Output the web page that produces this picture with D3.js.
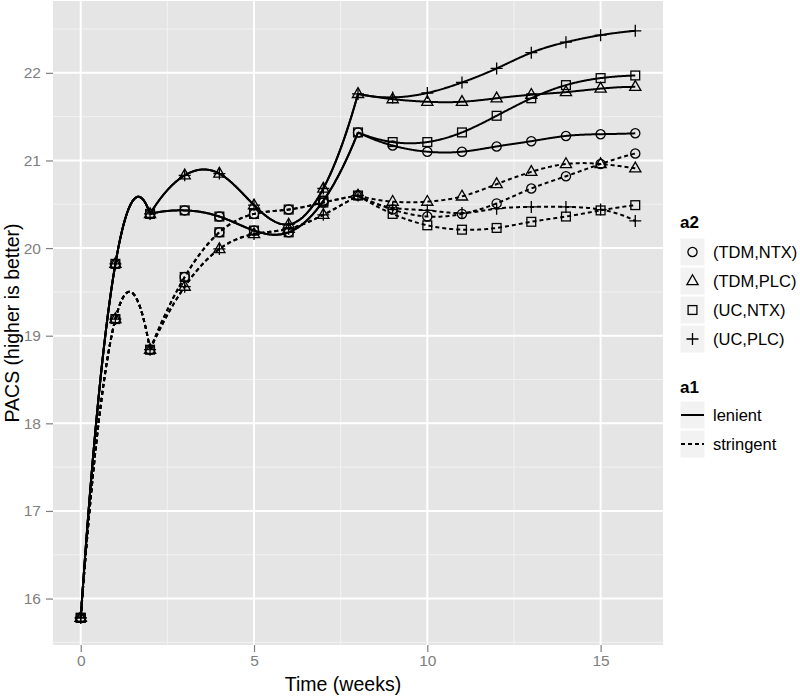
<!DOCTYPE html>
<html><head><meta charset="utf-8">
<script src="https://cdn.jsdelivr.net/npm/d3@7"></script>
<style>body{margin:0;background:#fff;} svg{display:block;font-family:"Liberation Sans",Arial,sans-serif;}</style>
</head><body>
<svg id="c" width="800" height="696"></svg>
<script>
const weeks = [0,1,2,3,4,5,6,7,8,9,10,11,12,13,14,15,16];
const phaseBreaks = [0,2,8,16];   // spline pieces: weeks 0-2, 2-8, 8-16
const groups = ["(TDM,NTX)","(TDM,PLC)","(UC,NTX)","(UC,PLC)"];
const shapes = ["circle","triangle","square","plus"];
const regimes = ["lenient","stringent"];
const yTicks = [16,17,18,19,20,21,22];
const xTicks = [0,5,10,15];

// lenient
const lenTDM_NTX = [15.78,19.82,20.39,20.43,20.36,20.20,20.18,20.54,21.32,21.17,21.10,21.10,21.16,21.22,21.28,21.30,21.31];
const lenTDM_PLC = [15.78,19.82,20.39,20.83,20.85,20.49,20.27,20.68,21.76,21.70,21.67,21.67,21.71,21.75,21.78,21.82,21.84];
const lenUC_NTX  = [15.78,19.82,20.39,20.43,20.36,20.20,20.18,20.54,21.32,21.21,21.21,21.32,21.51,21.71,21.86,21.94,21.97];
const lenUC_PLC  = [15.78,19.82,20.39,20.83,20.85,20.49,20.27,20.68,21.76,21.72,21.77,21.89,22.05,22.23,22.35,22.43,22.48];
// stringent
const strTDM_NTX = [15.78,19.19,18.84,19.67,20.18,20.39,20.44,20.52,20.60,20.44,20.36,20.39,20.51,20.68,20.82,20.96,21.08];
const strTDM_PLC = [15.78,19.19,18.84,19.56,19.99,20.16,20.22,20.38,20.60,20.53,20.53,20.59,20.73,20.87,20.96,20.96,20.91];
const strUC_NTX  = [15.78,19.19,18.84,19.67,20.18,20.39,20.44,20.52,20.60,20.39,20.26,20.21,20.23,20.30,20.36,20.43,20.49];
const strUC_PLC  = [15.78,19.19,18.84,19.56,19.99,20.16,20.22,20.38,20.60,20.46,20.43,20.40,20.45,20.47,20.47,20.44,20.31];

const series = [
  {a1:"lenient", a2:0, v:lenTDM_NTX},{a1:"lenient", a2:1, v:lenTDM_PLC},
  {a1:"lenient", a2:2, v:lenUC_NTX},{a1:"lenient", a2:3, v:lenUC_PLC},
  {a1:"stringent", a2:0, v:strTDM_NTX},{a1:"stringent", a2:1, v:strTDM_PLC},
  {a1:"stringent", a2:2, v:strUC_NTX},{a1:"stringent", a2:3, v:strUC_PLC}
];

const svg = d3.select("#c");
const P = {l:53, r:663, t:1, b:645};
const x = d3.scaleLinear().domain([-0.8,16.8]).range([P.l,P.r]);
const y = d3.scaleLinear().domain([15.47,22.82]).range([P.b,P.t]);

svg.append("rect").attr("x",P.l).attr("y",P.t).attr("width",P.r-P.l).attr("height",P.b-P.t).attr("fill","#E5E5E5");
const g = svg.append("g");
const xMinor = [2.5,7.5,12.5];
const yMinor = [15.5,16.5,17.5,18.5,19.5,20.5,21.5,22.5];
g.selectAll(".xm").data(xMinor).join("line").attr("x1",d=>x(d)).attr("x2",d=>x(d)).attr("y1",P.t).attr("y2",P.b).attr("stroke","#F2F2F2").attr("stroke-width",1);
g.selectAll(".ym").data(yMinor).join("line").attr("y1",d=>y(d)).attr("y2",d=>y(d)).attr("x1",P.l).attr("x2",P.r).attr("stroke","#F2F2F2").attr("stroke-width",1);
g.selectAll(".xM").data(xTicks).join("line").attr("x1",d=>x(d)).attr("x2",d=>x(d)).attr("y1",P.t).attr("y2",P.b).attr("stroke","#fff").attr("stroke-width",2);
g.selectAll(".yM").data(yTicks).join("line").attr("y1",d=>y(d)).attr("y2",d=>y(d)).attr("x1",P.l).attr("x2",P.r).attr("stroke","#fff").attr("stroke-width",2);

const xa = svg.append("g").attr("transform",`translate(0,${P.b})`).call(d3.axisBottom(x).tickValues(xTicks).tickSize(7).tickPadding(3).tickFormat(d3.format("d")));
const ya = svg.append("g").attr("transform",`translate(${P.l},0)`).call(d3.axisLeft(y).tickValues(yTicks).tickSize(7).tickPadding(5).tickFormat(d3.format("d")));
[xa,ya].forEach(a=>{a.select(".domain").remove();a.selectAll("line").attr("stroke","#7F7F7F").attr("stroke-width",1.2);a.selectAll("text").attr("fill","#7F7F7F").style("font-size","15.5px").style("font-family","'Liberation Sans',Arial,sans-serif");});

svg.append("text").attr("x",343).attr("y",691).attr("text-anchor","middle").style("font-size","19.5px").text("Time (weeks)");
svg.append("text").attr("transform",`translate(19,${(P.t+P.b)/2}) rotate(-90)`).attr("text-anchor","middle").style("font-size","19.5px").text("PACS (higher is better)");

// FMM cubic spline (as R's spline()), used as a d3 curve
function fmmCoef(xs, ys){
  const n = xs.length, b = new Array(n).fill(0), c = new Array(n).fill(0), d = new Array(n).fill(0);
  if(n < 3){ const s=(ys[1]-ys[0])/(xs[1]-xs[0]); b[0]=b[1]=s; return {b,c,d}; }
  const nm1 = n-1;
  d[0] = xs[1]-xs[0]; c[1] = (ys[1]-ys[0])/d[0];
  for(let i=1;i<nm1;i++){ d[i]=xs[i+1]-xs[i]; b[i]=2*(d[i-1]+d[i]); c[i+1]=(ys[i+1]-ys[i])/d[i]; c[i]=c[i+1]-c[i]; }
  b[0]=-d[0]; b[nm1]=-d[n-2]; c[0]=c[nm1]=0;
  if(n>3){
    c[0]=c[2]/(xs[3]-xs[1])-c[1]/(xs[2]-xs[0]);
    c[nm1]=c[n-2]/(xs[nm1]-xs[n-3])-c[n-3]/(xs[n-2]-xs[n-4]);
    c[0]=c[0]*d[0]*d[0]/(xs[3]-xs[0]);
    c[nm1]=-c[nm1]*d[n-2]*d[n-2]/(xs[nm1]-xs[n-4]);
  }
  for(let i=1;i<=nm1;i++){ const t=d[i-1]/b[i-1]; b[i]-=t*d[i-1]; c[i]-=t*c[i-1]; }
  c[nm1]=c[nm1]/b[nm1];
  for(let i=n-2;i>=0;i--) c[i]=(c[i]-d[i]*c[i+1])/b[i];
  b[nm1]=(ys[nm1]-ys[n-2])/d[n-2]+d[n-2]*(c[n-2]+2*c[nm1]);
  for(let i=0;i<nm1;i++){ b[i]=(ys[i+1]-ys[i])/d[i]-d[i]*(c[i+1]+2*c[i]); d[i]=(c[i+1]-c[i])/d[i]; c[i]=3*c[i]; }
  c[nm1]=3*c[nm1]; d[nm1]=d[n-2];
  return {b,c,d};
}
function curveFMM(context){
  let px=[], py=[];
  return {
    areaStart(){}, areaEnd(){},
    lineStart(){ px=[]; py=[]; },
    point(a,b){ px.push(+a); py.push(+b); },
    lineEnd(){
      const n=px.length; if(!n) return;
      context.moveTo(px[0],py[0]);
      if(n===1) return;
      const {b,c,d}=fmmCoef(px,py);
      for(let i=0;i<n-1;i++){
        const steps=40;
        for(let k=1;k<=steps;k++){
          const dx=(px[i+1]-px[i])*k/steps;
          context.lineTo(px[i]+dx, py[i]+dx*(b[i]+dx*(c[i]+dx*d[i])));
        }
      }
    }
  };
}

const line = d3.line().x(d=>x(d.t)).y(d=>y(d.v)).curve(curveFMM);
svg.append("clipPath").attr("id","cp").append("rect").attr("x",P.l).attr("y",P.t).attr("width",P.r-P.l).attr("height",P.b-P.t);
const lg = svg.append("g").attr("clip-path","url(#cp)");
series.forEach(sr=>{
  for(let p=0;p<phaseBreaks.length-1;p++){
    const pts = weeks.map((t,i)=>({t, v:sr.v[i]})).filter(d=>d.t>=phaseBreaks[p] && d.t<=phaseBreaks[p+1]);
    lg.append("path").attr("d",line(pts)).attr("fill","none").attr("stroke","#000").attr("stroke-width",2)
      .attr("stroke-linejoin","round").attr("stroke-dasharray",sr.a1==="stringent"?"4,3":null);
  }
});

function drawShape(sel, shape){
  const s = "#000", w = 1.3;
  if(shape==="circle") sel.append("circle").attr("r",4.6).attr("fill","none").attr("stroke",s).attr("stroke-width",w);
  else if(shape==="triangle") sel.append("path").attr("d","M0,-6.2L5.6,3.6L-5.6,3.6Z").attr("fill","none").attr("stroke",s).attr("stroke-width",w);
  else if(shape==="square") sel.append("rect").attr("x",-4.4).attr("y",-4.4).attr("width",8.8).attr("height",8.8).attr("fill","none").attr("stroke",s).attr("stroke-width",w);
  else sel.append("path").attr("d","M-6,0H6M0,-6V6").attr("fill","none").attr("stroke",s).attr("stroke-width",w);
}
series.forEach(sr=>{
  sr.v.forEach((v,i)=>{
    const m = svg.append("g").attr("transform",`translate(${x(weeks[i])},${y(v)})`);
    drawShape(m, shapes[sr.a2]);
  });
});

const L = svg.append("g").attr("transform","translate(680,0)");
L.append("text").attr("x",0).attr("y",228).style("font-size","17px").style("font-weight","bold").text("a2");
const rowY = [252,281,310,339];
groups.forEach((gname,i)=>{
  L.append("rect").attr("x",0).attr("y",rowY[i]-14).attr("width",25).attr("height",28).attr("fill","#F2F2F2").attr("stroke","#fff").attr("stroke-width",1);
  const m = L.append("g").attr("transform",`translate(12.5,${rowY[i]})`);
  drawShape(m, shapes[i]);
  L.append("text").attr("x",33).attr("y",rowY[i]+6).style("font-size","16.5px").text(gname);
});
L.append("text").attr("x",0).attr("y",393).style("font-size","17px").style("font-weight","bold").text("a1");
const rowY2 = [415,444];
regimes.forEach((r,i)=>{
  L.append("rect").attr("x",0).attr("y",rowY2[i]-14).attr("width",25).attr("height",28).attr("fill","#F2F2F2").attr("stroke","#fff").attr("stroke-width",1);
  L.append("line").attr("x1",1).attr("x2",24).attr("y1",rowY2[i]).attr("y2",rowY2[i]).attr("stroke","#000").attr("stroke-width",2).attr("stroke-dasharray",r==="stringent"?"4,3":null);
  L.append("text").attr("x",33).attr("y",rowY2[i]+6).style("font-size","16.5px").text(r);
});
</script>
</body></html>
